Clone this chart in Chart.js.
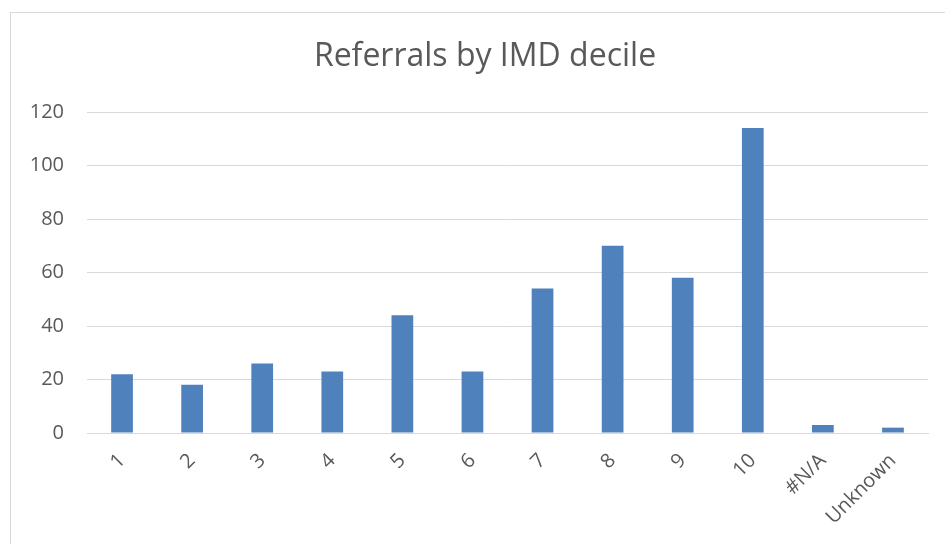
<!DOCTYPE html>
<html>
<head>
<meta charset="utf-8">
<script src="https://cdn.jsdelivr.net/npm/chart.js@4"></script>
<style>
    body { margin: 0; background: #fff; }
    #wrap { position: relative; width: 945px; height: 544px; overflow: hidden; }
    #frame { position: absolute; left: 10px; top: 12px; width: 960px; height: 560px;
             border-left: 1px solid #d9d9d9; border-top: 1px solid #d9d9d9; }
    #chart { position: absolute; left: 0; top: 0; }
</style>
</head>
<body>
<div id="wrap">
    <div id="frame"></div>
    <canvas id="chart" width="945" height="544"></canvas>
</div>
<script>
// Chart data
var chartTitle = 'Referrals by IMD decile';
var deciles = ['1', '2', '3', '4', '5', '6', '7', '8', '9', '10', '#N/A', 'Unknown'];
var referrals = [22, 18, 26, 23, 44, 23, 54, 70, 58, 114, 3, 2];
var yTicks = [0, 20, 40, 60, 80, 100, 120];

var textColor = '#595959';
var gridColor = '#d9d9d9';

// Title is centred on the outer chart frame, not the canvas
var frameTitle = {
    id: 'frameTitle',
    afterDraw: function(chart) {
        var c = chart.ctx;
        c.save();
        c.fillStyle = textColor;
        c.font = '32px "Open Sans"';
        c.textAlign = 'center';
        c.textBaseline = 'middle';
        c.fillText(chartTitle, 485, 57);
        c.restore();
    }
};

var ctx = document.getElementById('chart').getContext('2d');
var chart = new Chart(ctx, {
    type: 'bar',
    data: {
        labels: deciles,
        datasets: [{
            label: 'Referrals',
            data: referrals,
            backgroundColor: '#4f81bd',
            borderWidth: 0,
            categoryPercentage: 1,
            barPercentage: 0.31
        }]
    },
    plugins: [frameTitle],
    options: {
        responsive: false,
        animation: false,
        layout: {
            padding: { top: 112, right: 17, bottom: 0, left: 0 }
        },
        plugins: {
            legend: { display: false },
            tooltip: { enabled: false },
            title: { display: false }
        },
        scales: {
            x: {
                grid: { display: false, drawTicks: false },
                border: { display: true, color: gridColor, width: 1 },
                ticks: {
                    color: textColor,
                    font: { family: 'Open Sans', size: 20 },
                    minRotation: 45,
                    maxRotation: 45,
                    padding: 16
                },
                afterFit: function(scale) {
                    scale.height = 111;
                }
            },
            y: {
                min: 0,
                max: 120,
                afterBuildTicks: function(scale) {
                    scale.ticks = yTicks.map(function(v) { return { value: v }; });
                },
                grid: { color: gridColor, lineWidth: 1, drawTicks: false },
                border: { display: false },
                ticks: {
                    color: textColor,
                    font: { family: 'Open Sans', size: 20 },
                    padding: 23
                },
                afterFit: function(scale) {
                    scale.width = 87;
                }
            }
        }
    }
});
</script>
</body>
</html>
